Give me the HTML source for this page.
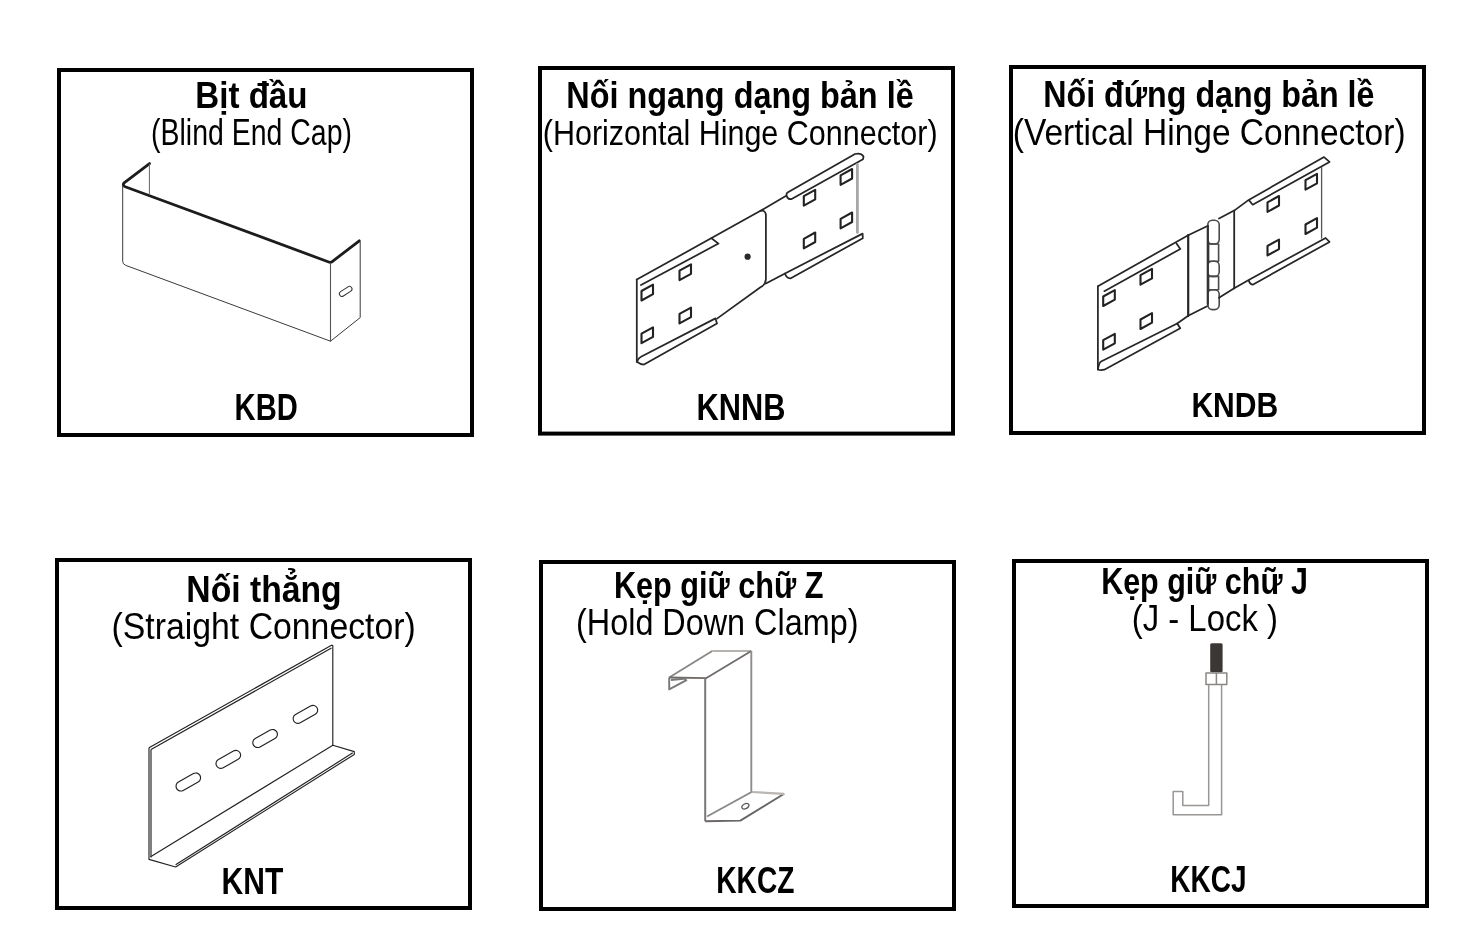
<!DOCTYPE html>
<html><head><meta charset="utf-8"><style>
html,body{margin:0;padding:0;background:#fff;overflow:hidden;width:1483px;height:947px;}
svg{display:block;will-change:transform;}
text{font-family:"Liberation Sans",sans-serif;fill:#000;}
</style></head><body>
<svg width="1483" height="947" viewBox="0 0 1483 947">
<rect x="59" y="70" width="413" height="365" fill="none" stroke="#000" stroke-width="4"/>
<rect x="540" y="68" width="413" height="365.6" fill="none" stroke="#000" stroke-width="4"/>
<rect x="1011" y="67" width="413" height="366" fill="none" stroke="#000" stroke-width="4"/>
<rect x="57" y="560" width="413" height="348" fill="none" stroke="#000" stroke-width="4"/>
<rect x="541" y="562" width="413" height="347" fill="none" stroke="#000" stroke-width="4"/>
<rect x="1014" y="561" width="413" height="345" fill="none" stroke="#000" stroke-width="4"/>
<text transform="translate(195.31,107.85) scale(0.895,1)" font-size="36.99" font-weight="bold">Bịt đầu</text>
<text transform="translate(151.05,145.4) scale(0.7741,1)" font-size="36.77" font-weight="normal">(Blind End Cap)</text>
<text transform="translate(234.6,419.75) scale(0.7987,1)" font-size="36.48" font-weight="bold">KBD</text>
<text transform="translate(566.29,107.75) scale(0.8684,1)" font-size="37.31" font-weight="bold">Nối ngang dạng bản lề</text>
<text transform="translate(542.8,144.8) scale(0.8488,1)" font-size="35.93" font-weight="normal">(Horizontal Hinge Connector)</text>
<text transform="translate(696.52,419.75) scale(0.8252,1)" font-size="37.31" font-weight="bold">KNNB</text>
<text transform="translate(1043.21,106.75) scale(0.8639,1)" font-size="37.31" font-weight="bold">Nối đứng dạng bản lề</text>
<text transform="translate(1012.79,144.56) scale(0.9047,1)" font-size="37.03" font-weight="normal">(Vertical Hinge Connector)</text>
<text transform="translate(1191.42,416.6) scale(0.841,1)" font-size="35.76" font-weight="bold">KNDB</text>
<text transform="translate(186.29,601.75) scale(0.9036,1)" font-size="37.31" font-weight="bold">Nối thẳng</text>
<text transform="translate(111.57,639.2) scale(0.9155,1)" font-size="36.92" font-weight="normal">(Straight Connector)</text>
<text transform="translate(221.58,893.75) scale(0.8055,1)" font-size="37.31" font-weight="bold">KNT</text>
<text transform="translate(613.94,597.56) scale(0.828,1)" font-size="37.03" font-weight="bold">Kẹp giữ chữ Z</text>
<text transform="translate(576.04,634.75) scale(0.8808,1)" font-size="36.76" font-weight="normal">(Hold Down Clamp)</text>
<text transform="translate(716.28,892.75) scale(0.76,1)" font-size="37.03" font-weight="bold">KKCZ</text>
<text transform="translate(1101.15,593.56) scale(0.8235,1)" font-size="37.03" font-weight="bold">Kẹp giữ chữ J</text>
<text transform="translate(1131.74,631.37) scale(0.882,1)" font-size="37.31" font-weight="normal">(J - Lock )</text>
<text transform="translate(1170.16,891.7) scale(0.7464,1)" font-size="37.59" font-weight="bold">KKCJ</text>
<g fill="none" stroke-linecap="round" stroke-linejoin="round">
<path d="M149.5,163.6 L123.8,183.2 Q122.4,185.6 125.2,186.8 L329.4,262.2 Q331,262.6 332.2,261.6 L359.3,240.8" stroke="#1c1c1c" stroke-width="2.8"/>
<path d="M149.4,164 V193.6" stroke="#666" stroke-width="1"/>
<path d="M122.7,186 V261.5 Q122.8,264.2 125.6,265.3 L330.5,341.2 L360.2,317.6 V242" stroke="#3a3a3a" stroke-width="1"/>
<path d="M330.5,263.8 V341" stroke="#555" stroke-width="1.1"/>
<rect x="-7" y="-2.6" width="14" height="5.2" rx="2.6" transform="translate(345.7,291.4) rotate(-33)" stroke="#333" stroke-width="1"/>
</g>
<g fill="none" stroke="#262626" stroke-width="1.75" stroke-linecap="round" stroke-linejoin="round">
<path d="M636.8,279.6 V361.8"/>
<path d="M636.8,279.6 L760.5,210.8 Q764.8,209.6 765.9,214.5 V279 Q765.6,284.8 760.8,287 L717,318.6"/>
<path d="M641,285 L718.5,243.6 L711.5,238.2"/>
<path d="M636.8,361.8 Q638.5,358 641,356.8 L715.5,318.4 L717,323.4 L644,364.6 Q640.5,364.5 636.8,361.8"/>
<path d="M760.5,210.8 L786.6,195.5 Q786,193.5 788,192.3 L855,154 Q861,152.5 863.5,156.5 L863,159.3 L791.2,199.2 Q787.5,199.5 786.6,195.5"/>
<path d="M857.4,164.5 V232.4" stroke="#a8a8a8" stroke-width="2.8"/>
<path d="M765.9,283.6 L785,273.4 L862.6,233.6 L862.8,238.2 L790.4,278.4 Q786,278 785,273.4"/>
<circle cx="747.6" cy="256.7" r="3.1" fill="#2a2a2a" stroke="none"/>
</g>
<polygon points="641.5,291.0 653.0,284.7 653.0,294.2 641.5,300.5" fill="none" stroke="#222" stroke-width="2.1" stroke-linejoin="round"/>
<polygon points="679.5,270.6 691.0,264.3 691.0,273.8 679.5,280.1" fill="none" stroke="#222" stroke-width="2.1" stroke-linejoin="round"/>
<polygon points="679.5,313.9 691.0,307.6 691.0,317.1 679.5,323.4" fill="none" stroke="#222" stroke-width="2.1" stroke-linejoin="round"/>
<polygon points="641.5,333.7 653.0,327.4 653.0,336.9 641.5,343.2" fill="none" stroke="#222" stroke-width="2.1" stroke-linejoin="round"/>
<polygon points="803.8,196.1 815.2,189.8 815.2,199.3 803.8,205.6" fill="none" stroke="#222" stroke-width="2.1" stroke-linejoin="round"/>
<polygon points="840.6,175.3 852.1,169.0 852.1,178.5 840.6,184.8" fill="none" stroke="#222" stroke-width="2.1" stroke-linejoin="round"/>
<polygon points="803.8,238.8 815.2,232.5 815.2,242.0 803.8,248.3" fill="none" stroke="#222" stroke-width="2.1" stroke-linejoin="round"/>
<polygon points="840.6,218.8 852.1,212.5 852.1,222.0 840.6,228.3" fill="none" stroke="#222" stroke-width="2.1" stroke-linejoin="round"/>
<g fill="none" stroke="#262626" stroke-width="1.75" stroke-linecap="round" stroke-linejoin="round">
<path d="M1097.9,286.3 V369.5"/>
<path d="M1097.9,286.3 L1188.2,235.2"/>
<path d="M1104.3,291.2 L1180.3,249 L1176.5,243.5"/>
<path d="M1097.9,369.5 Q1099,362.6 1101.1,361.5 L1177.2,323.5 L1180.3,328.3 L1104.3,369.7 Q1100.5,370.5 1097.9,369.5"/>
<path d="M1177.2,323.5 L1188.2,315.8"/>
<path d="M1188.2,235.2 V315.8" stroke-width="2.2"/>
<path d="M1188.2,235.2 L1208,225.8 M1188.2,315.8 L1208,305.8"/>
<g stroke="#4a4a4a" stroke-width="1.6">
<rect x="1208.6" y="244" width="10" height="17.3"/>
<rect x="1208.6" y="276.4" width="10" height="13.4"/>
<rect x="1207.8" y="220.3" width="11.4" height="23.7" rx="4.5"/>
<rect x="1207.8" y="261.3" width="11.4" height="15.1" rx="4.5"/>
<rect x="1207.8" y="289.8" width="11.4" height="19.8" rx="4.5"/>
<path d="M1207.8,226 V304" stroke-width="2.2" stroke="#333"/>
</g>
<path d="M1219,218.6 L1234.2,210.6 M1219,297.8 L1234.2,288.3"/>
<path d="M1234.2,210.6 V288.3" stroke-width="1.8"/>
<path d="M1234.2,210.6 L1248.7,199.9 L1324,157.1 L1329.5,161.9 L1252.7,204.7 L1248.7,199.9"/>
<path d="M1321.6,167.4 V238" stroke="#555" stroke-width="1.3"/>
<path d="M1234.2,288.3 L1248.7,280 L1325.6,238 L1329.5,241.9 L1252.7,284.7 Q1249.5,284.2 1248.7,280"/>
</g>
<polygon points="1103.2,296.5 1114.8,290.2 1114.8,299.7 1103.2,306.0" fill="none" stroke="#222" stroke-width="2.1" stroke-linejoin="round"/>
<polygon points="1140.5,275.2 1152.0,268.9 1152.0,278.4 1140.5,284.7" fill="none" stroke="#222" stroke-width="2.1" stroke-linejoin="round"/>
<polygon points="1140.5,319.5 1152.0,313.2 1152.0,322.7 1140.5,329.0" fill="none" stroke="#222" stroke-width="2.1" stroke-linejoin="round"/>
<polygon points="1103.2,340.1 1114.8,333.8 1114.8,343.3 1103.2,349.6" fill="none" stroke="#222" stroke-width="2.1" stroke-linejoin="round"/>
<polygon points="1267.5,202.3 1279.0,196.0 1279.0,205.5 1267.5,211.8" fill="none" stroke="#222" stroke-width="2.1" stroke-linejoin="round"/>
<polygon points="1305.5,180.1 1317.0,173.8 1317.0,183.3 1305.5,189.6" fill="none" stroke="#222" stroke-width="2.1" stroke-linejoin="round"/>
<polygon points="1267.5,245.9 1279.0,239.6 1279.0,249.1 1267.5,255.4" fill="none" stroke="#222" stroke-width="2.1" stroke-linejoin="round"/>
<polygon points="1305.5,224.5 1317.0,218.2 1317.0,227.7 1305.5,234.0" fill="none" stroke="#222" stroke-width="2.1" stroke-linejoin="round"/>
<g fill="none" stroke="#222" stroke-width="1.15" stroke-linejoin="round">
<path d="M149,747.8 L331.5,645.2 L332.8,645.6 L332.8,745.3"/>
<path d="M151,749.6 L331.5,648"/>
<path d="M149,747.8 V859.4 L175.6,867 L354.3,754.4 V751.6 L332.8,745.3 L150.6,856.8"/>
<path d="M151,749.6 V857.6"/>
<path d="M175.6,864.8 L352.8,752.8"/>
<rect x="-13.4" y="-4.8" width="26.8" height="9.6" rx="4.8" transform="translate(188.3,782) rotate(-29.5)"/>
<rect x="-13.4" y="-4.8" width="26.8" height="9.6" rx="4.8" transform="translate(228.3,759.4) rotate(-29.5)"/>
<rect x="-13.4" y="-4.8" width="26.8" height="9.6" rx="4.8" transform="translate(265.1,738.5) rotate(-29.5)"/>
<rect x="-13.4" y="-4.8" width="26.8" height="9.6" rx="4.8" transform="translate(305.4,714.4) rotate(-29.5)"/>
</g>
<g fill="none" stroke="#7a7777" stroke-width="1.9" stroke-linejoin="round">
<path d="M669.2,677.5 L712.2,651" stroke="#8a8785"/>
<path d="M712.2,651 L751.3,651" stroke="#b5b2b0" stroke-width="2"/>
<path d="M751.3,651 L706,678.2 L669.2,677.5" stroke="#6f6b69" stroke-width="1.8"/>
<path d="M669.2,677.5 V689.4 L687,679.8 M671,680 L686,678.5"/>
<path d="M705.2,678.2 V821.2" stroke-width="2"/>
<path d="M751.3,651 V792" stroke="#8f8c8a"/>
<path d="M705.2,821.2 L740.4,820.6 L784.2,793.8" stroke="#6a6666"/>
<path d="M784.2,793.8 L751.6,792" stroke="#b8b5b3" stroke-width="2.2"/>
<path d="M751.6,792 L707,816.5" stroke="#888"/>
<ellipse cx="0" cy="0" rx="3.8" ry="2.4" transform="translate(745.4,806.2) rotate(-25)" stroke="#555" stroke-width="1.3"/>
</g>
<g fill="none" stroke="#9a9694" stroke-width="1.5" stroke-linejoin="round">
<rect x="1210.2" y="643.2" width="12.4" height="29" rx="1.5" fill="#3b3735" stroke="none"/>
<path d="M1206,673 H1226.8 V684.6 H1206 Z M1216.4,673 V684.6" stroke="#8a8684" stroke-width="1.5"/>
<path d="M1208.7,685 V805.4 H1182.8 V791.6 H1173.2 V814.8 H1221.6 V685"/>
</g>
</svg>
</body></html>
